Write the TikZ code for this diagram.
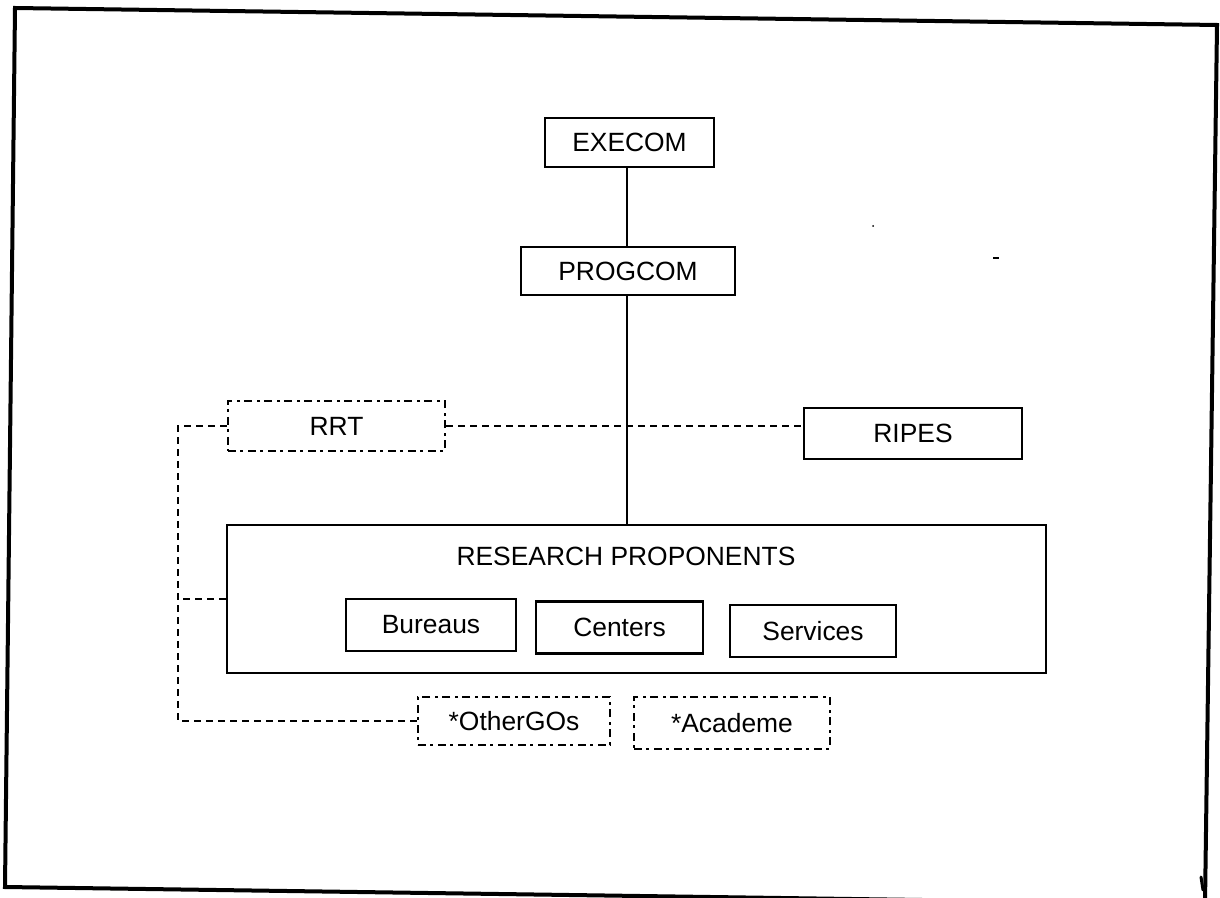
\documentclass[tikz,border=0pt]{standalone}
\usepackage{fontspec}
\setmainfont{Liberation Sans}
\begin{document}
\begin{tikzpicture}[x=0.5pt,y=-0.5pt,
  lbl/.style={font=\fontsize{13.2}{16}\selectfont, inner sep=0pt},
  solidbox/.style={lbl, draw, line width=1.2pt, rectangle},
  dotbox/.style={lbl, draw, line width=1.2pt, rectangle, dash pattern=on 4pt off 2pt on 1.5pt off 2.5pt},
  link/.style={line width=1pt},
  dlink/.style={line width=1.2pt, dash pattern=on 3.5pt off 2.5pt},
  frame/.style={line width=2pt, line join=miter}]
\useasboundingbox (0,0) rectangle (1220,898);
\clip (0,0) rectangle (1220,898);
\draw[frame] (1205,904) -- (5,887) -- (15,8) -- (1217,25) -- cycle;
\draw[line width=1.5pt, line cap=round] (1201,877) -- (1203,890);
\fill (873,226) circle (1);
\draw[line width=1pt] (993,258) -- (999,258);

\node[solidbox, minimum width=84.5pt, minimum height=24.5pt] (exe) at (629.5,142.5) {EXECOM};
\node[solidbox, minimum width=107pt, minimum height=24pt] (prog) at (628,271) {PROGCOM};
\node[dotbox, minimum width=108.5pt, minimum height=25pt] (rrt) at (336.5,426) {RRT};
\node[solidbox, minimum width=109pt, minimum height=25.5pt] (ripes) at (913,433.5) {RIPES};
\node[solidbox, minimum width=409.5pt, minimum height=74pt] (rp) at (636.5,599) {};
\node[lbl] (rptitle) at (626,556) {RESEARCH PROPONENTS};
\node[solidbox, minimum width=85pt, minimum height=26pt] (bur) at (431,625) {Bureaus};
\node[solidbox, minimum width=83.5pt, minimum height=26pt] (cen) at (619.5,627.5) {Centers};
\node[solidbox, minimum width=83pt, minimum height=26pt] (ser) at (813,631) {Services};
\node[dotbox, minimum width=96pt, minimum height=24pt] (oth) at (514,721) {*OtherGOs};
\node[dotbox, minimum width=98pt, minimum height=26pt] (aca) at (732,723) {*Academe};

\coordinate (spine) at (627,0);
\coordinate (lc) at (178,0);
\draw[link] (exe.south -| spine) -- (prog.north -| spine);
\draw[link] (prog.south -| spine) -- (rp.north -| spine);
\draw[dlink] (rrt.east) -- (rrt.east -| ripes.west);
\draw[dlink] (rrt.west) -- (rrt.west -| lc) |- (oth.west);
\draw[dlink] (rp.west) -- (rp.west -| lc);
\end{tikzpicture}
\end{document}
